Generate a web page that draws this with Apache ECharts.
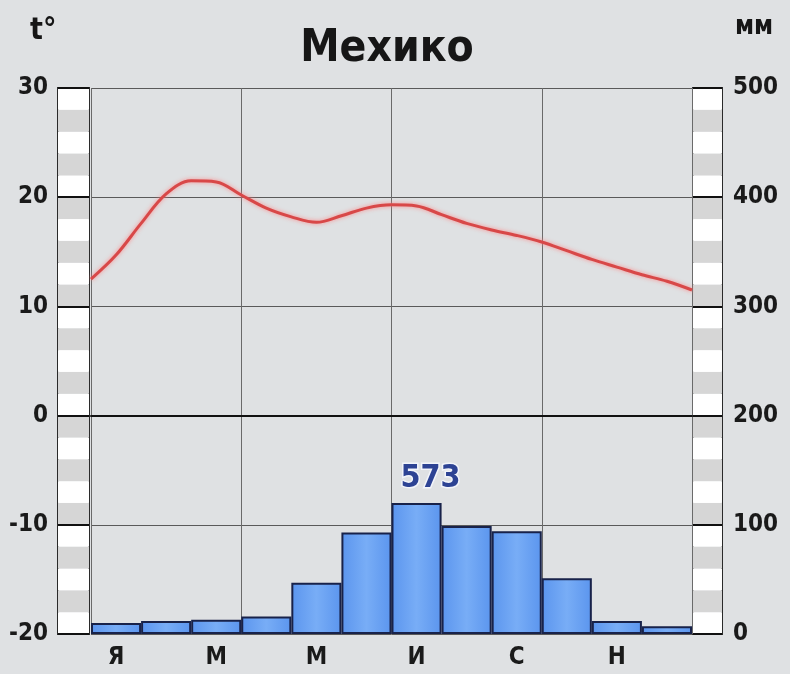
<!DOCTYPE html>
<html>
<head>
<meta charset="utf-8">
<script src="https://cdn.jsdelivr.net/npm/echarts@6/dist/echarts.min.js"></script>
<style>
  html, body { margin: 0; padding: 0; background: #dfe1e3; }
  #chart { width: 790px; height: 674px; }
</style>
</head>
<body>
<div id="chart"></div>
<script>
// месяцы (подписи через один)
var months = ['Я', 'Ф', 'М', 'А', 'М', 'И', 'И', 'А', 'С', 'О', 'Н', 'Д']
// осадки, мм
var precip = [10, 12, 13, 16, 47, 93, 120, 99, 94, 51, 12, 7]
var precipTotal = 573
var tempCurve = [12.5, 14.7, 17.6, 20.3, 21.5, 21.4, 20.2, 19.0, 18.2, 17.7, 18.3, 19.0, 19.3,
                 19.2, 18.4, 17.6, 17.0, 16.5, 15.9, 15.1, 14.3, 13.6, 12.9, 12.3, 11.5]
var tempTicks = [-20, 30, 10]
var precipTicks = [0, 500, 100]

var FONT = '"DejaVu Sans Condensed", "DejaVu Sans", sans-serif'

var tempLine = tempCurve.map(function (t, i) { return [i / 2, t] })

var chart = echarts.init(document.getElementById('chart'))

// полосатая шкала по краям
function stripAxes(gridIndex) {
  return [
    {
      gridIndex: gridIndex, type: 'value', min: tempTicks[0], max: tempTicks[1], interval: 2,
      axisLine: { show: false }, axisTick: { show: false }, axisLabel: { show: false },
      splitLine: { show: false },
      splitArea: { show: true, areaStyle: { color: ['#ffffff', '#d6d6d6'] } }
    },
    {
      gridIndex: gridIndex, type: 'value', min: tempTicks[0], max: tempTicks[1], interval: tempTicks[2],
      axisLine: { show: false }, axisTick: { show: false }, axisLabel: { show: false },
      splitLine: { show: true, lineStyle: { color: '#111', width: 2 } }
    }
  ]
}

function hiddenX(gridIndex) {
  return {
    gridIndex: gridIndex, type: 'value', min: 0, max: 1,
    axisLine: { show: false }, axisTick: { show: false }, axisLabel: { show: false }, splitLine: { show: false }
  }
}

chart.setOption({
  backgroundColor: '#dfe1e3',
  animation: false,
  title: {
    text: 'Мехико',
    left: 382,
    top: 23,
    textAlign: 'center',
    textStyle: { fontFamily: FONT, fontSize: 44, fontWeight: 'bold', color: '#161616' }
  },
  graphic: [
    { type: 'text', left: 30, top: 16, style: { text: 't°', font: 'bold 30px ' + FONT, fill: '#161616' } },
    { type: 'text', left: 735, top: 14, style: { text: 'мм', font: 'bold 26px ' + FONT, fill: '#161616' } }
  ],
  grid: [
    { left: 91, right: 98, top: 88, bottom: 40 },
    { left: 58, width: 31, top: 88, bottom: 40, show: true, borderColor: '#2a2a2a', borderWidth: 2 },
    { left: 693, width: 29, top: 88, bottom: 40, show: true, borderColor: '#2a2a2a', borderWidth: 2 }
  ],
  xAxis: [
    {
      gridIndex: 0, type: 'category', data: months, boundaryGap: true,
      axisLine: { lineStyle: { color: '#111', width: 2 } },
      axisTick: { show: false },
      axisLabel: { interval: 1, margin: 12, color: '#1a1a1a', fontFamily: FONT, fontWeight: 'bold', fontSize: 24 }
    },
    {
      gridIndex: 0, type: 'value', min: 0, max: months.length, interval: 3,
      axisLine: { show: false }, axisTick: { show: false }, axisLabel: { show: false },
      splitLine: { show: true, lineStyle: { color: '#6a6a6a', width: 1 } }
    },
    hiddenX(1),
    hiddenX(2)
  ],
  yAxis: [
    {
      gridIndex: 0, type: 'value', min: tempTicks[0], max: tempTicks[1], interval: tempTicks[2], position: 'left',
      axisLine: { show: false }, axisTick: { show: false },
      axisLabel: { margin: 43, color: '#1a1a1a', fontFamily: FONT, fontWeight: 'bold', fontSize: 24 },
      splitLine: { show: true, lineStyle: { color: '#5a5a5a', width: 1 } }
    },
    {
      gridIndex: 0, type: 'value', min: precipTicks[0], max: precipTicks[1], interval: precipTicks[2], position: 'right',
      axisLine: { show: false }, axisTick: { show: false },
      axisLabel: { margin: 41, color: '#1a1a1a', fontFamily: FONT, fontWeight: 'bold', fontSize: 24 },
      splitLine: { show: false }
    }
  ].concat(stripAxes(1), stripAxes(2)),
  series: [
    {
      name: 'осадки',
      type: 'bar',
      xAxisIndex: 0,
      yAxisIndex: 1,
      data: precip,
      barCategoryGap: '0%',
      itemStyle: {
        color: new echarts.graphic.LinearGradient(0, 0, 1, 0, [
          { offset: 0, color: '#5b95ee' },
          { offset: 0.5, color: '#78adf6' },
          { offset: 1, color: '#5b95ee' }
        ]),
        borderColor: '#18224a',
        borderWidth: 2
      },
      label: {
        show: true,
        position: 'top',
        distance: 8,
        offset: [14, 0],
        formatter: function (p) { return p.dataIndex === 6 ? String(precipTotal) : '' },
        fontFamily: FONT,
        fontWeight: 'bold',
        fontSize: 32,
        color: '#2d4394',
        textBorderColor: '#f2f4fa',
        textBorderWidth: 3
      },
      z: 2
    },
    {
      name: 'температура',
      type: 'line',
      xAxisIndex: 1,
      yAxisIndex: 0,
      data: tempLine,
      smooth: 0.35,
      symbol: 'none',
      lineStyle: {
        color: '#d84848',
        width: 3,
        shadowColor: 'rgba(255, 130, 130, 0.9)',
        shadowBlur: 4
      },
      markLine: {
        silent: true,
        symbol: 'none',
        label: { show: false },
        lineStyle: { color: '#111', width: 2, type: 'solid' },
        data: [{ yAxis: 0 }]
      },
      z: 3
    }
  ]
})
</script>
</body>
</html>
